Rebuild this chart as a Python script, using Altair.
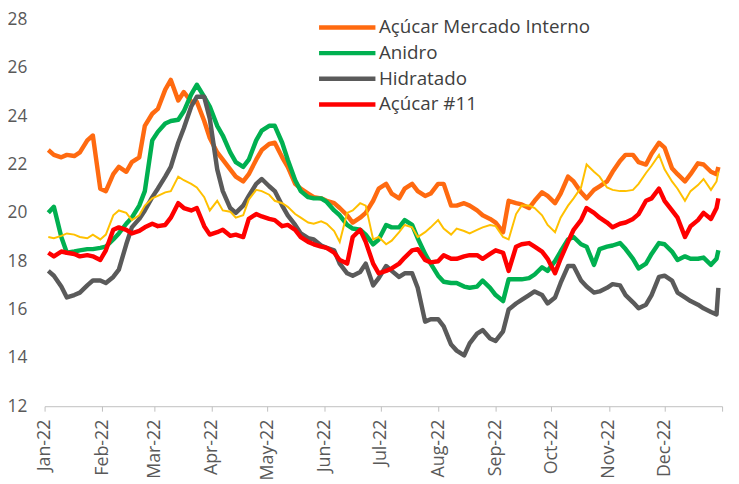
import altair as alt
import pandas as pd

# observation dates: Mondays and Thursdays of 2022, plus the last trading day
mondays = pd.date_range("2022-01-03", "2022-12-29", freq="W-MON")
thursdays = pd.date_range("2022-01-03", "2022-12-29", freq="W-THU")
dates = [str(d.date()) for d in sorted(list(mondays) + list(thursdays))] + ["2022-12-30"]

acucar_mi = [22.6, 22.4, 22.3, 22.4, 22.35, 22.5, 23.0, 23.2, 21.0, 20.9,
             21.6, 21.9, 21.7, 22.1, 22.3, 23.6, 24.1, 24.3, 25.1, 25.5,
             24.65, 25.0, 24.6, 24.6, 23.8, 23.1, 22.5, 22.2, 21.8, 21.5,
             21.3, 21.6, 22.2, 22.6, 22.85, 22.9, 22.3, 21.9, 21.2, 21.0,
             20.8, 20.65, 20.6, 20.5, 20.4, 20.2, 19.9, 19.6, 19.8, 20.0,
             20.5, 21.0, 21.2, 20.8, 20.6, 21.0, 21.2, 20.9, 20.7, 20.8,
             21.2, 21.2, 20.3, 20.3, 20.4, 20.3, 20.1, 19.9, 19.75, 19.6,
             19.2, 20.5, 20.4, 20.35, 20.2, 20.5, 20.85, 20.7, 20.4, 20.8,
             21.5, 21.3, 20.85, 20.6, 20.95, 21.1, 21.3, 21.7, 22.15, 22.4,
             22.4, 22.1, 22.0, 22.45, 22.9, 22.7, 21.85, 21.6, 21.3, 21.6,
             22.05, 22.0, 21.7, 21.6, 21.9]
anidro = [20.0, 20.25, 19.0, 18.35, 18.4, 18.45, 18.5, 18.5, 18.55, 18.6,
          18.9, 19.15, 19.55, 19.8, 20.3, 20.9, 23.0, 23.35, 23.7, 23.8,
          23.85, 24.2, 24.9, 25.3, 24.8, 24.4, 23.6, 23.2, 22.5, 22.1,
          21.9, 22.2, 23.0, 23.4, 23.6, 23.6, 22.9, 22.2, 21.35, 20.9,
          20.65, 20.6, 20.6, 20.45, 20.1, 19.9, 19.5, 19.35, 19.3, 19.1,
          18.7, 18.9, 19.5, 19.4, 19.4, 19.7, 19.5, 18.95, 18.3, 17.9,
          17.4, 17.15, 17.1, 17.1, 16.95, 16.9, 16.95, 17.2, 16.9, 16.6,
          16.35, 17.25, 17.25, 17.25, 17.3, 17.45, 17.75, 17.6, 18.0, 18.4,
          18.9, 19.0, 18.7, 18.6, 17.85, 18.5, 18.6, 18.65, 18.75, 18.5,
          18.1, 17.7, 17.9, 18.3, 18.75, 18.7, 18.4, 18.05, 18.2, 18.1,
          18.1, 18.15, 17.85, 18.1, 18.45]
hidratado = [17.6, 17.4, 16.95, 16.5, 16.6, 16.7, 17.0, 17.2, 17.2, 17.1,
             17.35, 17.65, 18.7, 19.4, 19.75, 20.1, 20.65, 21.0, 21.5, 21.9,
             22.9, 23.5, 24.4, 24.8, 24.8, 23.9, 21.8, 20.9, 20.2, 20.0,
             20.3, 20.7, 21.2, 21.4, 21.1, 20.9, 20.3, 19.9, 19.5, 19.15,
             18.95, 18.9, 18.65, 18.55, 18.45, 17.9, 17.5, 17.4, 17.55, 17.9,
             17.0, 17.3, 17.8, 17.6, 17.35, 17.5, 17.5, 16.9, 15.5, 15.6,
             15.6, 15.3, 14.55, 14.3, 14.1, 14.6, 15.0, 15.15, 14.8, 14.7,
             15.1, 16.0, 16.25, 16.4, 16.6, 16.75, 16.6, 16.25, 16.5, 17.1,
             17.8, 17.8, 17.2, 16.95, 16.7, 16.75, 16.9, 17.05, 17.0, 16.6,
             16.3, 16.05, 16.2, 16.6, 17.35, 17.4, 17.2, 16.7, 16.5, 16.35,
             16.2, 16.05, 15.9, 15.8, 16.9]
acucar11 = [18.35, 18.2, 18.4, 18.35, 18.3, 18.2, 18.25, 18.2, 18.05, 18.45,
            19.3, 19.4, 19.3, 19.15, 19.25, 19.4, 19.55, 19.45, 19.5, 19.8,
            20.4, 20.2, 20.1, 20.2, 19.45, 19.1, 19.2, 19.3, 19.05, 19.1,
            19.0, 19.75, 19.95, 19.85, 19.75, 19.7, 19.45, 19.5, 19.3, 19.0,
            18.8, 18.7, 18.6, 18.55, 18.35, 18.05, 17.9, 19.0, 19.3, 18.8,
            17.9, 17.5, 17.6, 17.7, 17.9, 18.15, 18.45, 18.5, 18.05, 17.95,
            18.0, 18.25, 18.1, 18.1, 18.2, 18.25, 18.25, 18.1, 18.3, 18.45,
            18.35, 17.6, 18.6, 18.7, 18.75, 18.6, 18.4, 18.1, 17.5, 18.1,
            18.8, 19.3, 19.7, 20.2, 20.0, 19.8, 19.6, 19.4, 19.55, 19.6,
            19.75, 19.95, 20.5, 20.6, 21.0, 20.5, 20.1, 19.8, 19.0, 19.45,
            19.7, 20.0, 19.75, 20.2, 20.6]
amarelo = [19.0, 18.95, 19.05, 19.15, 19.1, 19.0, 18.95, 19.1, 18.9, 19.1,
           19.9, 20.1, 20.0, 19.7, 19.9, 20.3, 20.6, 20.7, 20.85, 20.9,
           21.5, 21.35, 21.2, 21.05, 20.65, 20.1, 20.5, 20.1, 20.05, 19.8,
           19.9, 20.55, 20.95, 20.9, 20.75, 20.5, 20.4, 20.25, 19.95, 19.8,
           19.6, 19.55, 19.65, 19.55, 19.25, 18.8, 20.0, 20.1, 20.4, 20.3,
           18.9, 19.0, 18.7, 18.85, 19.2, 19.5, 19.4, 19.0, 19.2, 19.4,
           19.7, 19.35, 19.1, 19.35, 19.25, 19.15, 19.3, 19.4, 19.5, 19.45,
           19.0, 18.9, 19.95, 20.3, 20.3, 20.2, 19.9, 19.5, 19.2, 19.8,
           20.3, 20.6, 21.05, 22.0, 21.7, 21.5, 21.05, 20.95, 20.9, 20.9,
           20.95, 21.2, 21.65, 21.95, 22.4, 21.8, 21.3, 21.0, 20.5, 20.9,
           21.15, 21.4, 20.95, 21.3, 21.7]

names = ["Açúcar Mercado Interno", "Anidro", "Hidratado", "Açúcar #11"]
colors = ["#FF6A10", "#00B050", "#5A5A5A", "#FF0000"]
y_ticks = [12, 14, 16, 18, 20, 22, 24, 26, 28]

rows = []
for name, vals in zip(names, [acucar_mi, anidro, hidratado, acucar11]):
    for d, v in zip(dates, vals):
        rows.append({"date": d, "value": v, "serie": name})
df = pd.DataFrame(rows)
dfy = pd.DataFrame({"date": dates, "value": amarelo})

tick_dates = [alt.DateTime(year=2022, month=m, date=1) for m in range(1, 13)] + [
    alt.DateTime(year=2023, month=1, date=1)]
x_scale = alt.Scale(domain=[alt.DateTime(year=2022, month=1, date=1),
                            alt.DateTime(year=2023, month=1, date=1)])
x_axis = alt.Axis(values=tick_dates, format="%b-%y", labelAngle=270,
                  labelExpr="year(datum.value) > 2022 ? '' : datum.label",
                  title=None, grid=False, domainColor="#BFBFBF", tickColor="#BFBFBF",
                  tickSize=5, labelFontSize=18, labelColor="#595959", labelFont="Open Sans",
                  labelPadding=8)
y_scale = alt.Scale(domain=[12, 28], nice=False)
y_axis = alt.Axis(values=y_ticks, title=None, grid=False, domain=False, ticks=False,
                  labelFontSize=17.5, labelColor="#595959", labelFont="Open Sans",
                  labelPadding=18)

main = alt.Chart(df).mark_line(strokeWidth=4.5, strokeJoin="round").encode(
    x=alt.X("date:T", scale=x_scale, axis=x_axis),
    y=alt.Y("value:Q", scale=y_scale, axis=y_axis),
    color=alt.Color("serie:N", scale=alt.Scale(domain=names, range=colors), sort=names,
                    legend=alt.Legend(orient="none", legendX=275, legendY=-3, title=None,
                                      direction="vertical", symbolType="stroke",
                                      symbolSize=3249, symbolStrokeWidth=4.5,
                                      clipHeight=22,
                                      labelFontSize=19, labelFont="Open Sans",
                                      labelColor="#404040", rowPadding=4, padding=0,
                                      labelOffset=1, labelLimit=0)),
)

yellow = alt.Chart(dfy).mark_line(strokeWidth=2, color="#FFC000").encode(
    x=alt.X("date:T", scale=x_scale, axis=x_axis),
    y=alt.Y("value:Q", scale=y_scale, axis=y_axis),
)

chart = alt.layer(main, yellow).properties(
    width=685, height=391,
    autosize=alt.AutoSizeParams(type="none"),
    padding={"left": 37, "top": 9, "right": 9, "bottom": 75},
).configure_view(stroke=None)

chart.save("out.html", embed_options={"renderer": "svg", "actions": False})
